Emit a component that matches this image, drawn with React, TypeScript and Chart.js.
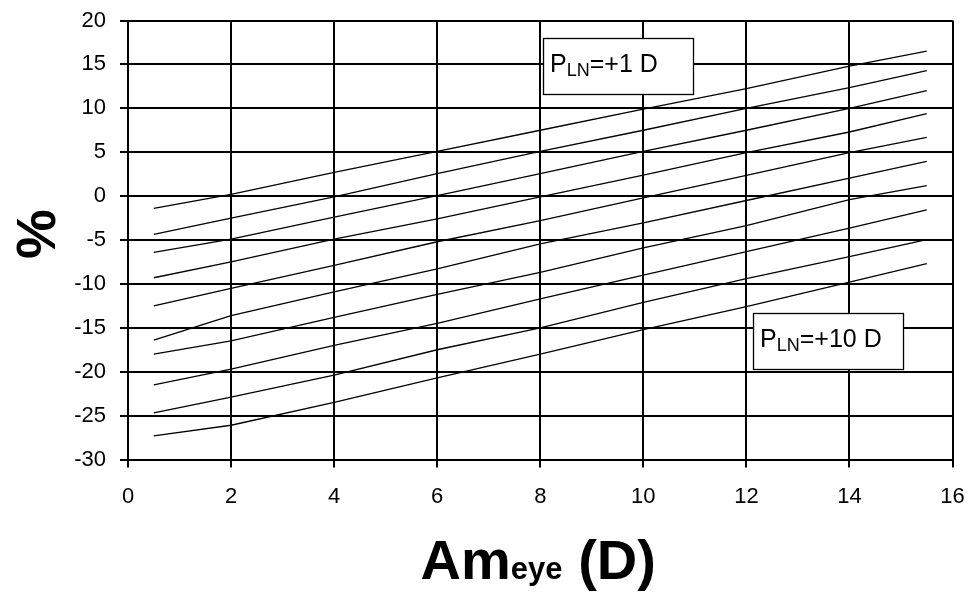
import React, { useEffect, useRef } from "react";
import { Chart, registerables } from "chart.js";

Chart.register(...registerables);

// ---- data ----
const X_POINTS = [0.5, 2, 4, 6, 8, 10, 12, 14, 15.5];
const LINE_1 = [-1.4, 0.2, 2.7, 5.1, 7.5, 9.9, 12.25, 14.8, 16.5];
const LINE_2 = [-4.35, -2.5, -0.1, 2.55, 5.1, 7.5, 10.0, 12.35, 14.3];
const LINE_3 = [-6.4, -4.9, -2.4, 0.05, 2.55, 5.1, 7.5, 10.0, 12.0];
const LINE_4 = [-9.3, -7.5, -4.9, -2.6, -0.1, 2.4, 4.95, 7.3, 9.4];
const LINE_5 = [-12.5, -10.5, -7.9, -5.2, -2.8, -0.2, 2.35, 4.95, 6.7];
const LINE_6 = [-16.4, -13.6, -10.9, -8.3, -5.45, -3.05, -0.5, 2.05, 3.95];
const LINE_7 = [-18.0, -16.5, -13.8, -11.2, -8.7, -5.9, -3.36, -0.4, 1.2];
const LINE_8 = [-21.5, -19.7, -17.0, -14.5, -11.7, -9.0, -6.33, -3.66, -1.57];
const LINE_9 = [-24.7, -22.9, -20.4, -17.5, -15.0, -12.1, -9.4, -6.9, -4.96];
const LINE_10 = [-27.3, -26.1, -23.5, -20.7, -18.0, -15.2, -12.6, -9.8, -7.7];
const SERIES = [LINE_1, LINE_2, LINE_3, LINE_4, LINE_5, LINE_6, LINE_7, LINE_8, LINE_9, LINE_10];

const X_MIN = 0;
const X_MAX = 16;
const X_STEP = 2;
const Y_MIN = -30;
const Y_MAX = 20;
const Y_STEP = 5;

const X_TITLE_MAIN = "Am";
const X_TITLE_SUB = "eye";
const X_TITLE_TAIL = " (D)";
const Y_TITLE = "%";

// annotation labels: main letter, subscript, rest
const LABEL_TOP = { main: "P", sub: "LN", rest: "=+1 D" };
const LABEL_BOTTOM = { main: "P", sub: "LN", rest: "=+10 D" };

// ---- layout / style ----
const W = 973;
const H = 596;
const FONT = "'Liberation Sans', Arial, Helvetica, sans-serif";
const ANNOTATIONS = [
  { label: LABEL_TOP, ax: 8.05, ay: 18.05 },
  { label: LABEL_BOTTOM, ax: 12.13, ay: -13.26 },
];
const BOX_W = 150;
const BOX_H = 56;

const overlayPlugin = {
  id: "overlay",
  afterDatasetsDraw(chart: any) {
    const { ctx, chartArea, scales } = chart;
    ctx.save();
    // annotation boxes
    for (const a of ANNOTATIONS) {
      const px = Math.round(scales.x.getPixelForValue(a.ax));
      const py = Math.round(scales.y.getPixelForValue(a.ay));
      ctx.fillStyle = "#fff";
      ctx.fillRect(px, py, BOX_W, BOX_H);
      ctx.strokeStyle = "#000";
      ctx.lineWidth = 1.3;
      ctx.strokeRect(px + 0.5, py + 0.5, BOX_W, BOX_H);
      ctx.fillStyle = "#000";
      ctx.textAlign = "left";
      ctx.textBaseline = "alphabetic";
      let tx = px + 7;
      const by = py + 34;
      ctx.font = `25px ${FONT}`;
      ctx.fillText(a.label.main, tx, by);
      tx += ctx.measureText(a.label.main).width;
      ctx.font = `18px ${FONT}`;
      ctx.fillText(a.label.sub, tx, by + 4);
      tx += ctx.measureText(a.label.sub).width;
      ctx.font = `25px ${FONT}`;
      ctx.fillText(a.label.rest, tx, by);
    }

    // x axis title with subscript
    const cx = (chartArea.left + chartArea.right) / 2;
    const base = chartArea.bottom + 119;
    ctx.font = `bold 56px ${FONT}`;
    const w1 = ctx.measureText(X_TITLE_MAIN).width;
    const w3 = ctx.measureText(X_TITLE_TAIL).width;
    ctx.font = `bold 31px ${FONT}`;
    const w2 = ctx.measureText(X_TITLE_SUB).width;
    let x0 = cx - (w1 + w2 + w3) / 2 - 2;
    ctx.textAlign = "left";
    ctx.textBaseline = "alphabetic";
    ctx.font = `bold 56px ${FONT}`;
    ctx.fillText(X_TITLE_MAIN, x0, base);
    x0 += w1;
    ctx.font = `bold 31px ${FONT}`;
    ctx.fillText(X_TITLE_SUB, x0, base);
    x0 += w2;
    ctx.font = `bold 56px ${FONT}`;
    ctx.fillText(X_TITLE_TAIL, x0, base);

    // y axis title, rotated
    ctx.save();
    ctx.translate(35, (chartArea.top + chartArea.bottom) / 2 - 6);
    ctx.rotate(-Math.PI / 2);
    ctx.textAlign = "center";
    ctx.textBaseline = "alphabetic";
    ctx.font = `bold 56px ${FONT}`;
    ctx.fillText(Y_TITLE, 0, 20);
    ctx.restore();

    ctx.restore();
  },
};

function clearPadding(scale: any) {
  scale.paddingLeft = 0;
  scale.paddingRight = 0;
  scale.paddingTop = 0;
  scale.paddingBottom = 0;
}

export default function App() {
  const ref = useRef<HTMLCanvasElement | null>(null);

  useEffect(() => {
    if (!ref.current) return;
    const datasets = SERIES.map((vals, i) => ({
      label: `line ${i + 1}`,
      data: X_POINTS.map((x, j) => ({ x, y: vals[j] })),
      borderColor: "#000",
      borderWidth: 1.3,
      pointRadius: 0,
      fill: false,
      tension: 0,
    }));
    const chart = new Chart(ref.current, {
      type: "line",
      data: { datasets },
      options: {
        animation: false,
        responsive: false,
        devicePixelRatio: 1,
        layout: { padding: { left: 0, right: 20.5, top: 20.5, bottom: 0 } },
        plugins: {
          legend: { display: false },
          tooltip: { enabled: false },
          title: { display: false },
        },
        scales: {
          x: {
            type: "linear",
            min: X_MIN,
            max: X_MAX,
            ticks: {
              stepSize: X_STEP,
              color: "#000",
              font: { family: FONT, size: 22 },
              padding: 16,
              maxRotation: 0,
            },
            grid: { color: "#000", lineWidth: 2, tickLength: 8, drawTicks: true },
            border: { color: "#000", width: 2 },
            afterFit: (scale: any) => {
              scale.height = 136.5;
              clearPadding(scale);
            },
          },
          y: {
            type: "linear",
            min: Y_MIN,
            max: Y_MAX,
            ticks: {
              stepSize: Y_STEP,
              color: "#000",
              font: { family: FONT, size: 22 },
              padding: 14,
            },
            grid: { color: "#000", lineWidth: 2, tickLength: 8, drawTicks: true },
            border: { color: "#000", width: 2 },
            afterFit: (scale: any) => {
              scale.width = 128;
              clearPadding(scale);
            },
          },
        },
      },
      plugins: [overlayPlugin],
    });
    return () => chart.destroy();
  }, []);

  return (
    <div style={{ position: "absolute", left: 0, top: 0, width: W, height: H, background: "#fff" }}>
      <canvas ref={ref} width={W} height={H} style={{ width: W, height: H, display: "block" }} />
    </div>
  );
}
